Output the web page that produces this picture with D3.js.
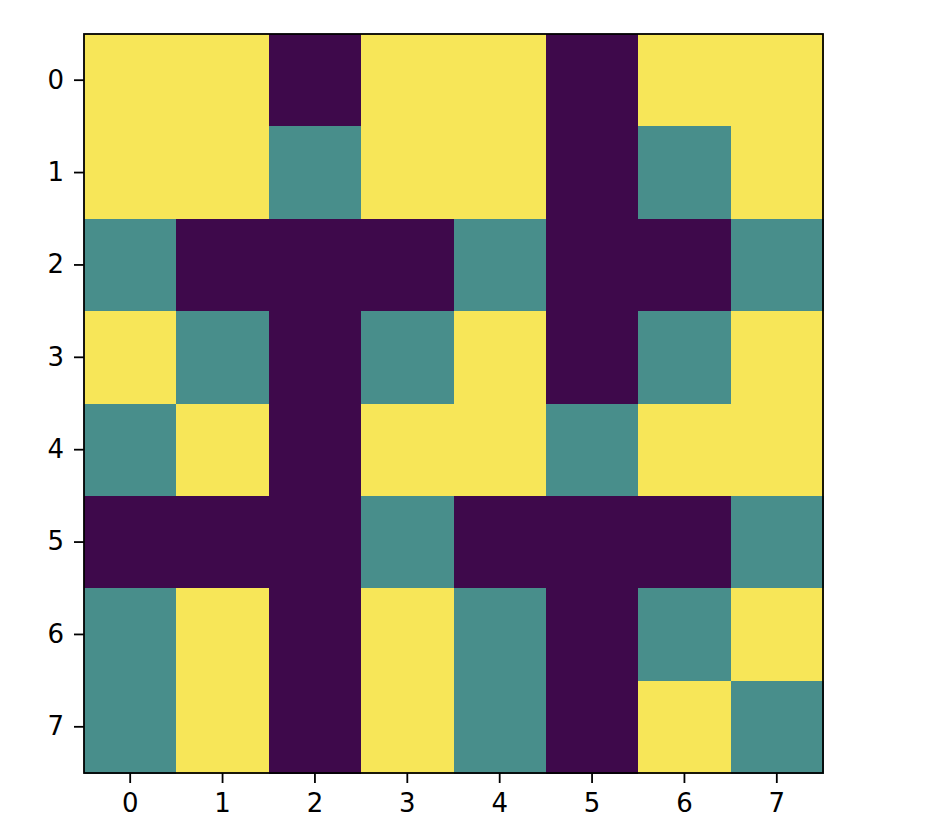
<!DOCTYPE html>
<html>
<head>
<meta charset="utf-8">
<script src="https://cdn.jsdelivr.net/npm/d3@7"></script>
<style>
  body { margin: 0; background: #fff; }
  text { font-family: "DejaVu Sans", sans-serif; }
</style>
</head>
<body>
<svg id="chart" width="934" height="830"></svg>
<script>
const rowLabels = ["0", "1", "2", "3", "4", "5", "6", "7"];
const colLabels = ["0", "1", "2", "3", "4", "5", "6", "7"];
// 0 = purple, 1 = teal, 2 = yellow
const grid = [
    [2, 2, 0, 2, 2, 0, 2, 2],
    [2, 2, 1, 2, 2, 0, 1, 2],
    [1, 0, 0, 0, 1, 0, 0, 1],
    [2, 1, 0, 1, 2, 0, 1, 2],
    [1, 2, 0, 2, 2, 1, 2, 2],
    [0, 0, 0, 1, 0, 0, 0, 1],
    [1, 2, 0, 2, 1, 0, 1, 2],
    [1, 2, 0, 2, 1, 0, 2, 1]
];
const levelColors = ["#3e094b", "#488e8b", "#f7e658"];

const margin = {left: 84, top: 34, right: 111, bottom: 57};
const width = 934 - margin.left - margin.right;
const height = 830 - margin.top - margin.bottom;

const svg = d3.select("#chart");
const g = svg.append("g").attr("transform", `translate(${margin.left},${margin.top})`);

const x = d3.scaleBand().domain(colLabels).range([0, width]);
const y = d3.scaleBand().domain(rowLabels).range([0, height]);
const color = d3.scaleOrdinal().domain([0, 1, 2]).range(levelColors);

const cells = grid.flatMap((row, r) => row.map((v, c) => ({r: rowLabels[r], c: colLabels[c], v})));

g.selectAll("rect.cell")
    .data(cells)
    .enter().append("rect")
    .attr("class", "cell")
    .attr("x", d => x(d.c))
    .attr("y", d => y(d.r))
    .attr("width", x.bandwidth() + 1)
    .attr("height", y.bandwidth() + 1)
    .attr("shape-rendering", "crispEdges")
    .attr("fill", d => color(d.v));

const xAxis = g.append("g")
    .attr("transform", `translate(0,${height})`)
    .call(d3.axisBottom(x).tickSize(10).tickPadding(11));
const yAxis = g.append("g")
    .call(d3.axisLeft(y).tickSize(10).tickPadding(10));

[xAxis, yAxis].forEach(a => {
    a.attr("font-size", null).attr("font-family", null);
    a.select(".domain").remove();
    a.selectAll("line").attr("stroke", "#000").attr("stroke-width", 1.8);
    a.selectAll("text").attr("fill", "#000")
        .style("font-size", "26px")
        .style("font-family", "'DejaVu Sans', sans-serif");
});

g.append("rect")
    .attr("width", width)
    .attr("height", height)
    .attr("fill", "none")
    .attr("stroke", "#000")
    .attr("stroke-width", 1.8);
</script>
</body>
</html>
